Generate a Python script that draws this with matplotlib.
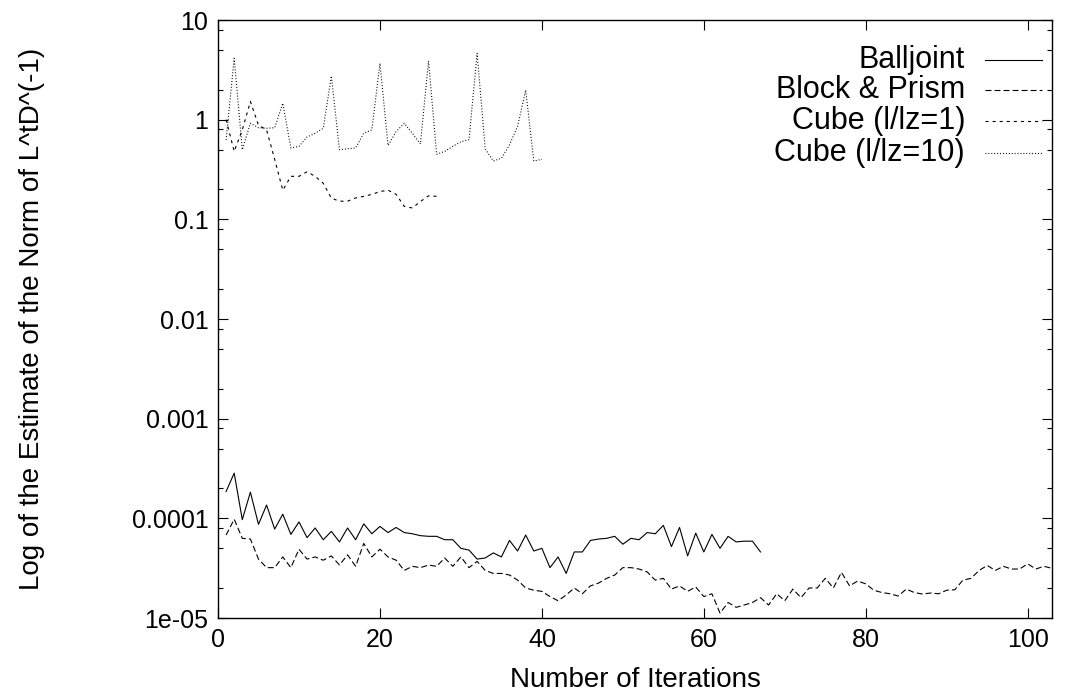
import matplotlib
matplotlib.use("Agg")
import matplotlib.pyplot as plt
from matplotlib.lines import Line2D
from matplotlib.ticker import FixedLocator, FixedFormatter, NullFormatter

# values, iteration numbers start at 1
balljoint = [1.86e-4, 2.84e-4, 9.7e-5, 1.83e-4, 8.7e-5, 1.36e-4, 7.8e-5, 1.1e-4, 6.9e-5, 9.2e-5,
             6.4e-5, 8.0e-5, 6.1e-5, 7.4e-5, 5.8e-5, 8.0e-5, 6.1e-5, 8.8e-5, 7.0e-5, 8.3e-5,
             7.2e-5, 8.1e-5, 7.2e-5, 7.0e-5, 6.7e-5, 6.6e-5, 6.6e-5, 6.1e-5, 6.1e-5, 5.0e-5,
             4.8e-5, 3.9e-5, 4.0e-5, 4.5e-5, 4.1e-5, 6.0e-5, 4.7e-5, 6.8e-5, 4.7e-5, 5.0e-5,
             3.2e-5, 4.1e-5, 2.8e-5, 4.6e-5, 4.6e-5, 6.0e-5, 6.2e-5, 6.3e-5, 6.6e-5, 5.5e-5,
             6.3e-5, 6.1e-5, 7.2e-5, 7.0e-5, 8.5e-5, 5.2e-5, 8.1e-5, 4.2e-5, 7.1e-5, 4.6e-5,
             6.9e-5, 5.0e-5, 6.6e-5, 5.8e-5, 5.9e-5, 5.9e-5, 4.6e-5]
block_prism = [6.8e-5, 9.8e-5, 6.3e-5, 6.2e-5, 3.9e-5, 3.2e-5, 3.2e-5, 4.1e-5, 3.2e-5, 4.9e-5,
               3.9e-5, 4.1e-5, 3.8e-5, 4.2e-5, 3.4e-5, 4.3e-5, 3.3e-5, 5.6e-5, 4.1e-5, 4.9e-5,
               4.1e-5, 3.8e-5, 3.0e-5, 3.3e-5, 3.2e-5, 3.4e-5, 3.3e-5, 4.0e-5, 3.3e-5, 4.1e-5,
               3.2e-5, 3.7e-5, 3.0e-5, 2.8e-5, 2.8e-5, 2.7e-5, 2.4e-5, 2.0e-5, 1.9e-5, 1.85e-5,
               1.64e-5, 1.49e-5, 1.7e-5, 2.0e-5, 1.75e-5, 2.1e-5, 2.24e-5, 2.5e-5, 2.7e-5, 3.2e-5,
               3.2e-5, 3.1e-5, 2.9e-5, 2.4e-5, 2.5e-5, 1.95e-5, 2.1e-5, 1.85e-5, 2.05e-5, 1.64e-5,
               1.75e-5, 1.12e-5, 1.43e-5, 1.28e-5, 1.35e-5, 1.43e-5, 1.6e-5, 1.35e-5, 1.75e-5, 1.49e-5,
               1.95e-5, 1.6e-5, 2.0e-5, 2.0e-5, 2.5e-5, 2.0e-5, 2.87e-5, 2.1e-5, 2.35e-5, 2.2e-5,
               1.9e-5, 1.8e-5, 1.75e-5, 1.66e-5, 1.95e-5, 1.8e-5, 1.74e-5, 1.78e-5, 1.75e-5, 1.9e-5,
               1.92e-5, 2.4e-5, 2.5e-5, 3.0e-5, 3.37e-5, 3.0e-5, 3.3e-5, 3.1e-5, 3.1e-5, 3.5e-5,
               3.1e-5, 3.3e-5, 3.15e-5]
cube_1 = [1.0, 0.48, 0.79, 1.52, 0.88, 0.79, 0.40, 0.196, 0.27, 0.27,
          0.30, 0.27, 0.23, 0.163, 0.152, 0.152, 0.164, 0.17, 0.178, 0.19,
          0.196, 0.178, 0.135, 0.13, 0.151, 0.172, 0.17]
cube_10 = [0.625, 4.13, 0.50, 0.92, 0.83, 0.82, 0.83, 1.46, 0.52, 0.54,
           0.67, 0.73, 0.82, 2.74, 0.50, 0.51, 0.52, 0.73, 0.79, 3.68,
           0.55, 0.76, 0.92, 0.73, 0.57, 3.88, 0.45, 0.48, 0.54, 0.60,
           0.63, 4.63, 0.51, 0.385, 0.41, 0.56, 0.86, 1.98, 0.385, 0.40]

labels = ["Balljoint", "Block & Prism", "Cube (l/lz=1)", "Cube (l/lz=10)"]
y_ticks = [10, 1, 0.1, 0.01, 0.001, 0.0001, 1e-05]
y_tick_labels = ["10", "1", "0.1", "0.01", "0.001", "0.0001", "1e-05"]
x_ticks = [0, 20, 40, 60, 80, 100]

plt.rcParams["font.family"] = ["Liberation Sans", "DejaVu Sans"]
plt.rcParams["font.size"] = 20
plt.rcParams["lines.scale_dashes"] = False

W, H = 1067, 698
fig = plt.figure(figsize=(W / 100, H / 100), dpi=100)
ax = fig.add_axes([218 / W, (H - 618) / H, (1052 - 218) / W, (618 - 20) / H])

series = [balljoint, block_prism, cube_1, cube_10]
# gnuplot line types: solid, long dash, short dash, dots (on/off in points)
dashes = [None, (4.3, 2.2), (2.2, 2.9), (0.7, 1.4)]


def styled(line, d):
    if d is not None:
        line.set_dashes(d)
    return line


for data, label, d in zip(series, labels, dashes):
    xs = range(1, len(data) + 1)
    line, = ax.plot(xs, data, color="black", lw=0.8, label=label)
    styled(line, d)

ax.set_yscale("log")
ax.set_xlim(0, 103)
ax.set_ylim(1e-05, 10)
ax.set_xticks(x_ticks)
ax.yaxis.set_major_locator(FixedLocator(y_ticks))
ax.yaxis.set_major_formatter(FixedFormatter(y_tick_labels))
minor = [m * 10.0 ** e for e in range(-5, 1) for m in (2, 5, 8)]
ax.yaxis.set_minor_locator(FixedLocator(minor))
ax.yaxis.set_minor_formatter(NullFormatter())

ax.tick_params(which="both", direction="in", top=True, right=True, width=0.8,
               pad=7, labelsize=18)
ax.tick_params(which="major", length=7.2)
ax.tick_params(which="minor", length=3.6)
for s in ax.spines.values():
    s.set_linewidth(1.0)

ax.set_xlabel("Number of Iterations", labelpad=11)
ax.set_ylabel("Log of the Estimate of the Norm of L^tD^(-1)", labelpad=62)

# gnuplot style key: right aligned text, line sample on the right
rows_y = [60, 90, 121, 153]
for label, d, y in zip(labels, dashes, rows_y):
    fig.text(965 / W, (H - y) / H, label, ha="right", va="center", fontsize=22)
    sample = Line2D([985 / W, 1042 / W], [(H - y) / H] * 2, transform=fig.transFigure,
                    color="black", lw=0.8)
    fig.add_artist(styled(sample, d))

fig.savefig("out.png", dpi=100)
